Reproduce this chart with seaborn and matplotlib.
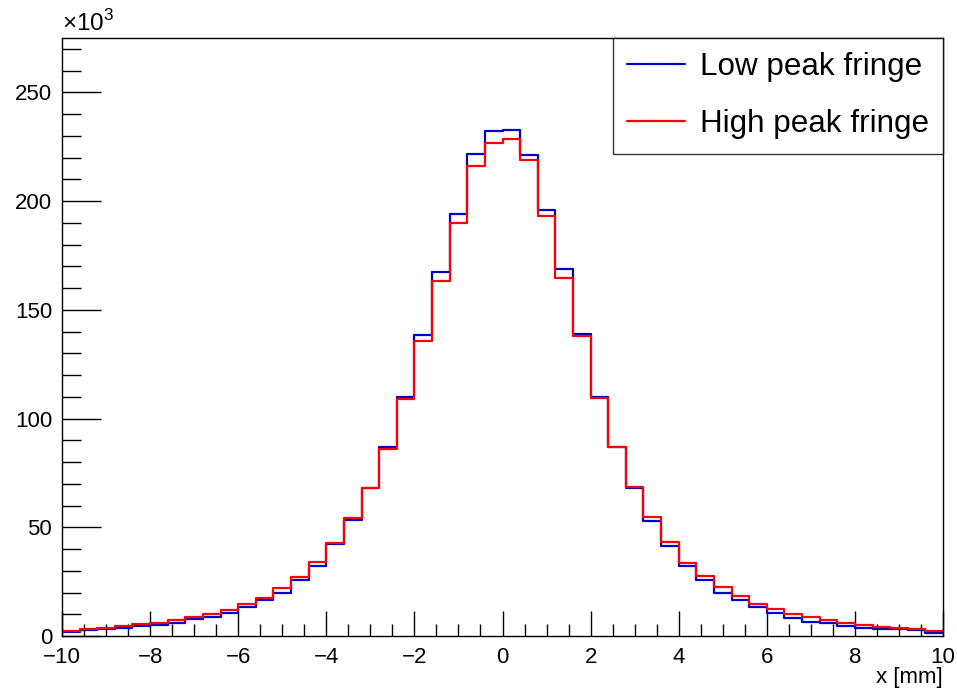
import numpy as np
import pandas as pd
import matplotlib
matplotlib.use("Agg")
import matplotlib.pyplot as plt
import seaborn as sns

# ---- data (counts in thousands), 50 bins of width 0.4 from -10 to 10 ----
bin_edges = [round(-10 + 0.4 * i, 6) for i in range(51)]
low_peak = [1.8, 2.6, 3.4, 3.7, 4.6, 4.9, 6.1, 7.7, 8.9, 10.4,
            13.4, 16.4, 19.9, 25.7, 32.2, 42.1, 53.3, 68.2, 87.0, 110.0,
            138.6, 167.4, 194.2, 221.8, 232.1, 232.8, 221.4, 195.8, 169.0, 139.1,
            110.0, 87.0, 68.2, 53.0, 41.2, 32.2, 25.6, 19.9, 16.4, 13.4,
            10.4, 8.1, 6.6, 5.8, 4.6, 3.8, 3.1, 3.4, 2.6, 1.5]
high_peak = [2.3, 3.4, 3.8, 4.6, 5.4, 5.8, 7.4, 8.7, 10.3, 11.8,
             14.6, 17.6, 21.9, 27.1, 34.2, 42.9, 54.1, 68.2, 86.2, 108.9,
             135.6, 163.1, 190.0, 216.0, 226.9, 228.4, 219.1, 193.0, 164.7, 137.9,
             109.5, 87.0, 68.6, 54.5, 43.0, 33.4, 27.6, 22.5, 18.4, 14.6,
             12.2, 9.9, 8.7, 7.4, 5.8, 5.1, 4.3, 3.8, 3.4, 2.3]
series_names = ["Low peak fringe", "High peak fringe"]
series_colors = ["#0000cc", "#ff0000"]

edges = np.array(bin_edges)
centers = 0.5 * (edges[:-1] + edges[1:])
df = pd.DataFrame({
    "x": np.concatenate([centers, centers]),
    "w": np.concatenate([low_peak, high_peak]),
    "series": [series_names[0]] * len(centers) + [series_names[1]] * len(centers),
})

sns.set_theme(style="white")
plt.rcParams["font.family"] = ["Liberation Sans", "DejaVu Sans"]
plt.rcParams["mathtext.fontset"] = "custom"
plt.rcParams["mathtext.rm"] = "Liberation Sans"
plt.rcParams["text.color"] = "black"

fig = plt.figure(figsize=(9.57, 6.93), dpi=100)
ax = fig.add_axes([62 / 957, 1 - 636 / 693, (943 - 62) / 957, (636 - 38) / 693])

for name, col in zip(series_names, series_colors):
    sub = df[df["series"] == name].reset_index(drop=True)
    sns.histplot(x=sub["x"], weights=sub["w"], bins=bin_edges, element="step",
                 fill=False, color=col, linewidth=1.6, ax=ax, label=name)

ax.set_xlim(-10, 10)
ax.set_ylim(0, 275)
ax.set_xlabel("")
ax.set_ylabel("")

ax.set_xticks(np.arange(-10, 10.1, 2))
ax.set_xticks(np.arange(-10, 10.01, 0.5), minor=True)
ax.set_yticks(np.arange(0, 251, 50))
ax.set_yticks(np.arange(0, 271, 10), minor=True)
ax.tick_params(axis="both", which="both", direction="in", colors="black",
               labelsize=16, width=1.0)
ax.tick_params(axis="x", which="major", length=18, pad=8, top=False, bottom=True)
ax.tick_params(axis="x", which="minor", length=9, top=False, bottom=True)
ax.tick_params(axis="y", which="major", length=28, pad=7, left=True, right=False)
ax.tick_params(axis="y", which="minor", length=14, left=True, right=False)

for sp in ax.spines.values():
    sp.set_visible(True)
    sp.set_color("black")
    sp.set_linewidth(1.0)

ax.text(1.0, -0.052, "x [mm]", transform=ax.transAxes, ha="right", va="top",
        fontsize=16)
ax.text(0.0, 1.004, r"×10$^{3}$", transform=ax.transAxes, ha="left", va="bottom",
        fontsize=17.5)

leg = ax.legend(loc="upper right", bbox_to_anchor=(1.0, 1.0), borderaxespad=0,
                frameon=True, fancybox=False, fontsize=22.6, handlelength=1.85,
                handletextpad=0.45, labelspacing=0.85, borderpad=0.46)
leg.get_frame().set_edgecolor("black")
leg.get_frame().set_linewidth(1.0)
for t in leg.get_texts():
    t.set_color("black")
for line in leg.get_lines():
    line.set_linewidth(1.6)

fig.savefig("out.png", dpi=100)
